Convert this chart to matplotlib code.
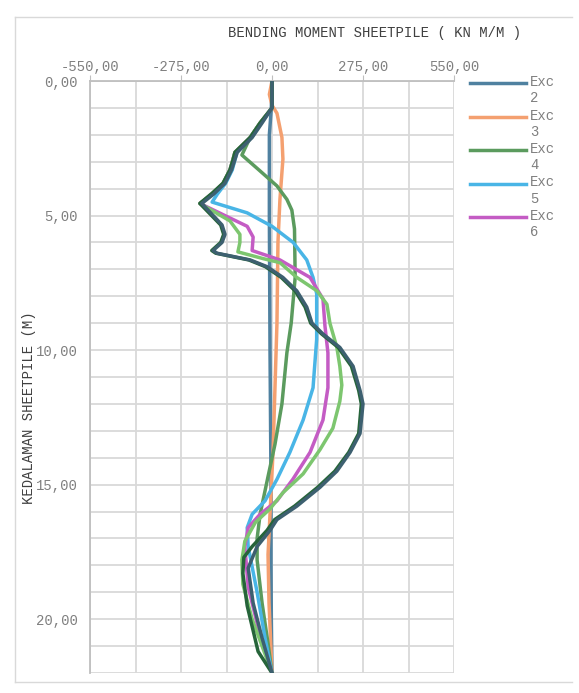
import matplotlib
matplotlib.use("Agg")
import matplotlib.pyplot as plt
from matplotlib.lines import Line2D
from matplotlib.ticker import MultipleLocator, FuncFormatter

plt.rcParams['font.family'] = ['Liberation Mono', 'DejaVu Sans Mono']

# depth (m) and bending moment (kN m/m) per excavation stage
exc2_depth = [0, 1.0, 2.0, 5.0, 10.0, 15.0, 18.0, 20.0, 22.0]
exc2_moment = [0, -2, -8, -8, -6, -3, -3, -2, 0]

exc3_depth = [0, 0.5, 0.9, 1.2, 2.1, 2.9, 4.4, 6.0, 9.0, 13.8, 16.1, 17.6, 19.4, 22.0]
exc3_moment = [0, -8, 0, 15, 30, 33, 24, 18, 15, 3, -6, -12, -9, 0]

exc4_depth = [0, 1.0, 1.56, 2.1, 2.75, 3.3, 3.9, 4.4, 4.8, 5.5, 7.3, 9.0, 10.1, 12.0,
              13.5, 14.7, 16.1, 17.0, 17.8, 19.4, 20.9, 22.0]
exc4_moment = [0, 0, -36, -66, -91, -40, 15, 45, 60, 68, 70, 58, 45, 30,
               9, -12, -36, -45, -45, -30, -12, 0]

exc5_depth = [0, 1.0, 1.56, 2.1, 2.65, 3.3, 3.8, 4.2, 4.5, 4.9, 5.4, 6.0, 6.65, 7.3, 7.9,
              9.6, 11.4, 12.6, 13.8, 14.8, 15.6, 16.1, 16.6, 17.3, 19.0, 20.7, 22.0]
exc5_moment = [0, 0, -33, -62, -106, -120, -140, -165, -181, -75, 0, 64, 105, 124, 135,
               135, 124, 94, 54, 15, -21, -60, -75, -72, -45, -21, 0]

exc6_depth = [0, 1.0, 1.56, 2.1, 2.65, 3.3, 3.8, 4.2, 4.55, 5.4, 5.8, 6.3, 6.65, 7.3, 8.1,
              9.1, 10.1, 11.4, 12.6, 13.8, 14.8, 15.6, 16.1, 16.6, 17.3, 18.8, 20.3, 22.0]
exc6_moment = [0, 0, -36, -66, -112, -127, -148, -181, -218, -75, -57, -60, 24, 115, 154,
               160, 169, 169, 154, 115, 63, 15, -36, -72, -82, -72, -42, 0]

exc7_depth = [0, 1.0, 1.56, 2.1, 2.65, 3.3, 3.8, 4.2, 4.55, 5.2, 5.7, 6.0, 6.35, 6.6, 6.75,
              7.3, 7.8, 8.3, 9.0, 9.9, 10.6, 11.3, 11.9, 12.9, 13.7, 14.6, 15.3, 15.9,
              16.4, 17.1, 17.8, 18.7, 20.0, 22.0]
exc7_moment = [0, 0, -36, -66, -112, -127, -148, -181, -218, -127, -97, -97, -103, -27, 24,
               75, 136, 166, 175, 196, 205, 211, 205, 184, 145, 94, 33, -6,
               -50, -82, -91, -88, -60, 0]

exc8_depth = [0, 1.0, 1.56, 2.1, 2.65, 3.3, 3.8, 4.2, 4.55, 5.35, 5.7, 6.0, 6.3, 6.4, 6.65,
              6.9, 7.3, 7.8, 8.4, 9.0, 9.4, 9.9, 10.6, 11.5, 12.0, 13.1, 13.8, 14.5, 15.1,
              15.8, 16.3, 16.7, 17.3, 18.1, 19.4, 20.7, 22.0]
exc8_moment = [0, 0, -30, -60, -105, -122, -142, -176, -212, -151, -142, -151, -178, -166, -66,
               -15, 33, 75, 105, 121, 154, 205, 245, 266, 275, 266, 236, 196, 145,
               75, 15, -6, -45, -72, -57, -30, 0]

exc9_depth = [0, 1.0, 1.56, 2.1, 2.65, 2.94, 3.3, 3.8, 4.17, 4.55, 5.35, 5.7, 6.0, 6.3, 6.4,
              6.65, 6.9, 7.3, 7.8, 8.4, 9.0, 9.4, 9.9, 10.6, 11.5, 12.0, 13.1, 13.8, 14.5,
              15.1, 15.8, 16.3, 16.7, 17.3, 17.7, 18.3, 19.5, 21.2, 22.0]
exc9_moment = [0, 0, -36, -66, -112, -118, -127, -148, -181, -218, -155, -146, -155, -182, -170,
               -70, -20, 28, 70, 100, 117, 150, 200, 240, 262, 270, 262, 232, 190,
               138, 68, 8, -15, -60, -85, -88, -75, -42, 0]

series = [
    ("Exc\n2", exc2_depth, exc2_moment, "#4F81A0", 2),
    ("Exc\n3", exc3_depth, exc3_moment, "#F4A070", 2),
    ("Exc\n4", exc4_depth, exc4_moment, "#5B9B5E", 2),
    ("Exc\n5", exc5_depth, exc5_moment, "#49B5E6", 2),
    ("Exc\n6", exc6_depth, exc6_moment, "#C45CC4", 2),
    ("Exc\n7", exc7_depth, exc7_moment, "#7DC66F", 2),
    ("Exc\n8", exc8_depth, exc8_moment, "#3D6070", 3),
    ("Exc\n9", exc9_depth, exc9_moment, "#26643A", 2.9),
]

W, H = 579, 693
fig = plt.figure(figsize=(W / 100, H / 100), dpi=100)
ax = fig.add_axes([90 / W, 1 - 673 / H, (454 - 90) / W, (673 - 81) / H])

for label, d, m, col, z in series:
    ax.plot(m, d, color=col, lw=2.5, zorder=z, solid_capstyle='round')

ax.set_xlim(-550, 550)
ax.set_ylim(22, 0)
ax.xaxis.set_major_locator(MultipleLocator(275))
ax.xaxis.set_minor_locator(MultipleLocator(137.5))
ax.yaxis.set_major_locator(MultipleLocator(5))
ax.yaxis.set_minor_locator(MultipleLocator(1))
fmt = FuncFormatter(lambda v, p: f"{v:.2f}".replace('.', ','))
ax.xaxis.set_major_formatter(fmt)
ax.yaxis.set_major_formatter(fmt)
ax.xaxis.tick_top()
ax.grid(True, which='both', color='#D9D9D9', lw=1.3, zorder=0)
ax.set_axisbelow(True)
ax.tick_params(axis='x', which='major', length=4, color='#BFBFBF', pad=1,
               labelsize=10, labelcolor='#7F7F7F')
ax.tick_params(axis='x', which='minor', length=0)
ax.tick_params(axis='y', which='both', length=0, pad=9, labelsize=10, labelcolor='#7F7F7F')
for s in ['bottom', 'right']:
    ax.spines[s].set_visible(False)
for s in ['top', 'left']:
    ax.spines[s].set_color('#BFBFBF')
    ax.spines[s].set_linewidth(1.3)

fig.text(375 / W, 1 - 33 / H, "BENDING MOMENT SHEETPILE ( KN M/M )", ha='center', va='center',
         fontsize=10, color='#404040')
fig.text(29 / W, 1 - 408 / H, "KEDALAMAN SHEETPILE (M)", rotation=90, ha='center', va='center',
         fontsize=10, color='#404040')

# legend (only first five entries visible, like the original)
for i, (label, d, m, col, z) in enumerate(series[:5]):
    y = 83 + 33.5 * i
    fig.add_artist(Line2D([470 / W, 526 / W], [1 - y / H, 1 - y / H], color=col, lw=2.5,
                          transform=fig.transFigure))
    fig.text(530 / W, 1 - (y - 8) / H, label, ha='left', va='top', fontsize=10,
             color='#7F7F7F', linespacing=1.2)

# chart area border
border = '#D9D9D9'
fig.add_artist(Line2D([15 / W, 572 / W], [1 - 17 / H, 1 - 17 / H], color=border, lw=1,
                      transform=fig.transFigure))
fig.add_artist(Line2D([15 / W, 572 / W], [1 - 682 / H, 1 - 682 / H], color=border, lw=1,
                      transform=fig.transFigure))
fig.add_artist(Line2D([15 / W, 15 / W], [1 - 17 / H, 1 - 682 / H], color=border, lw=1,
                      transform=fig.transFigure))

fig.savefig("out.png", dpi=100)
